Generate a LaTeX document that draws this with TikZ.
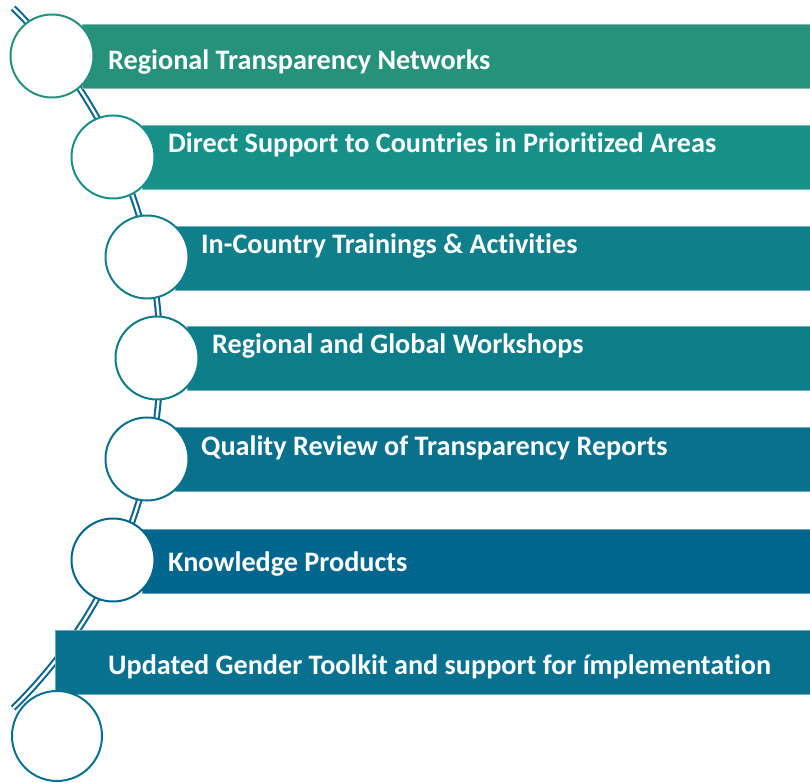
\documentclass[tikz,border=0pt]{standalone}
\usepackage{fontspec}
\setmainfont[Ligatures=NoCommon]{Carlito}
\usepackage{tikz}
\definecolor{spine-color}{RGB}{10, 102, 142}
\definecolor{net-color}{RGB}{38, 146, 123}
\definecolor{support-color}{RGB}{23, 144, 138}
\definecolor{train-color}{RGB}{15, 127, 140}
\definecolor{workshop-color}{RGB}{14, 125, 138}
\definecolor{review-color}{RGB}{9, 113, 140}
\definecolor{product-color}{RGB}{0, 102, 142}
\definecolor{gender-color}{RGB}{7, 113, 143}

\tikzset{
  bar/.style={rectangle, anchor=west, minimum height=64pt, inner sep=0pt, line width=0.7pt},
  dot/.style={circle, fill=white, line width=2pt, minimum size=83pt, inner sep=0pt},
  itemtext/.style={anchor=base west, inner sep=0pt, text=white, font=\fontsize{28.2pt}{32pt}\selectfont\bfseries},
  spine/.style={draw=spine-color, line width=2.1pt, double=white, double distance=2.4pt}
}

\begin{document}
\begin{tikzpicture}[x=1pt, y=1pt]
\useasboundingbox (0,0) rectangle (810,782);

\coordinate (spine_top) at (13.1,774.0);
\draw[spine] (spine_top) arc[start angle=45.6, end angle=-45.6, radius=490];

\node[bar, fill=net-color, draw=net-color!60!white, minimum width=728pt] (net_bar) at (82,726) {};
\node[bar, fill=support-color, draw=support-color!60!white, minimum width=668pt] (support_bar) at (142,625) {};
\node[bar, fill=train-color, draw=train-color!60!white, minimum width=635pt] (train_bar) at (175,524) {};
\node[bar, fill=workshop-color, draw=workshop-color!60!white, minimum width=623pt] (workshop_bar) at (187,424) {};
\node[bar, fill=review-color, draw=review-color!60!white, minimum width=635pt] (review_bar) at (175,322.5) {};
\node[bar, fill=product-color, draw=product-color!60!white, minimum width=668pt] (product_bar) at (142,221) {};
\node[bar, fill=gender-color, draw=gender-color!60!white, minimum width=755pt] (gender_bar) at (55,120) {};

\node[dot, draw=net-color] (net_dot) at (52,726) {};
\node[dot, draw=support-color] (support_dot) at (113,625) {};
\node[dot, draw=train-color] (train_dot) at (147,525) {};
\node[dot, draw=workshop-color] (workshop_dot) at (157,424) {};
\node[dot, draw=review-color] (review_dot) at (147,323) {};
\node[dot, draw=product-color] (product_dot) at (113,222) {};
\node[dot, draw=gender-color, minimum size=90pt] (gender_dot) at (57,46) {};

\node[itemtext] (net_text) at (108,712) {Regional Transparency Networks};
\node[itemtext] (support_text) at (168,629) {Direct Support to Countries in Prioritized Areas};
\node[itemtext] (train_text) at (201,528) {In-Country Trainings \& Activities};
\node[itemtext] (workshop_text) at (212,428) {Regional and Global Workshops};
\node[itemtext] (review_text) at (201,326) {Quality Review of Transparency Reports};
\node[itemtext] (product_text) at (168,211) {Knowledge Products};
\node[itemtext] (gender_text) at (108,108) {Updated Gender Toolkit and support for ímplementation};
\end{tikzpicture}
\end{document}
